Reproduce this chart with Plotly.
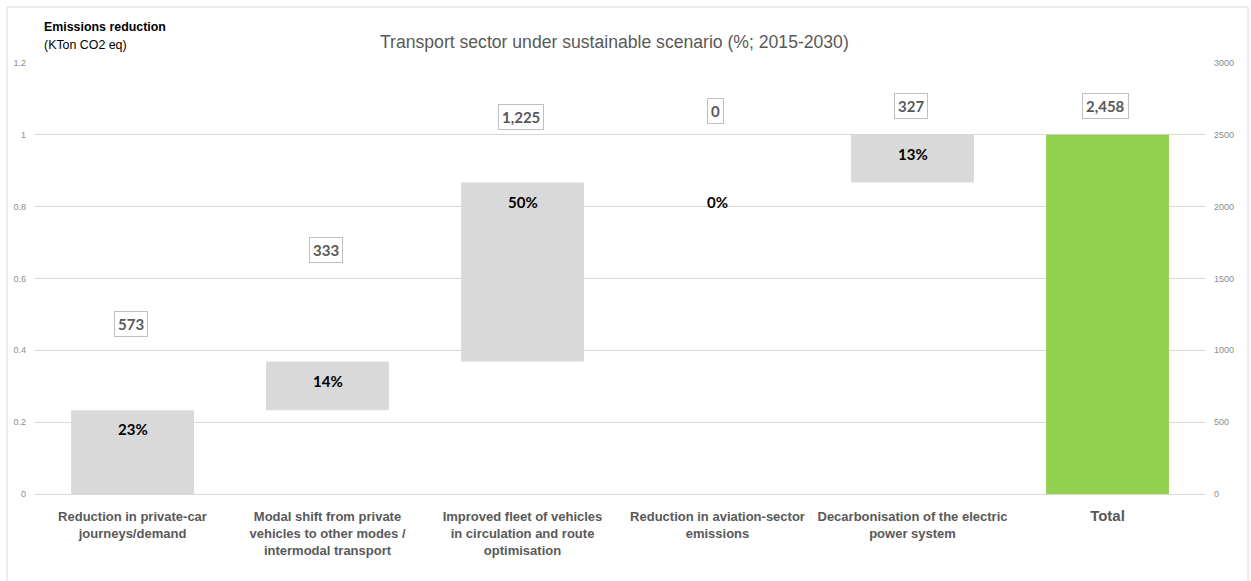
import plotly.graph_objects as go

categories = [
    "Reduction in private-car<br>journeys/demand",
    "Modal shift from private<br>vehicles to other modes /<br>intermodal transport",
    "Improved fleet of vehicles<br>in circulation and route<br>optimisation",
    "Reduction in aviation-sector<br>emissions",
    "Decarbonisation of the electric<br>power system",
    "Total",
]
reductions_kton = [573, 333, 1225, 0, 327]
value_label_y = [0.473, 0.679, 1.050, 1.066, 1.080, 1.080]
left_ticks = [0, 0.2, 0.4, 0.6, 0.8, 1, 1.2]
right_ticks = [0, 500, 1000, 1500, 2000, 2500, 3000]

total = sum(reductions_kton)
shares = [v / total for v in reductions_kton]
bases = []
acc = 0.0
for s in shares:
    bases.append(acc)
    acc += s
xs = list(range(len(categories)))

gray = "#d9d9d9"
green = "#92d050"
txt = "#595959"

fig = go.Figure()
fig.add_trace(go.Bar(
    x=xs, y=shares + [1.0], base=bases + [0.0],
    marker=dict(color=[gray] * len(shares) + [green], line=dict(width=0)),
    width=0.63, hoverinfo="skip", showlegend=False,
))
# invisible trace for right axis
fig.add_trace(go.Scatter(x=[xs[0]], y=[0], yaxis="y2", mode="markers",
                         marker=dict(opacity=0), showlegend=False, hoverinfo="skip"))

annotations = []
for i, s in enumerate(shares):
    annotations.append(dict(
        x=i, y=bases[i] + s, xref="x", yref="y", yanchor="top", yshift=-8,
        text=f"{round(s * 100):.0f}%", showarrow=False,
        font=dict(family="Lato", size=15, color="#000000", weight="bold"),
    ))
values_all = reductions_kton + [total]
for i, v in enumerate(values_all):
    annotations.append(dict(
        x=i, y=value_label_y[i], xref="x", yref="y", xshift=-2,
        text=f"{v:,}", showarrow=False,
        font=dict(family="Lato", size=15, color=txt, weight="bold"),
        bordercolor="#bfbfbf", borderwidth=1, borderpad=3, bgcolor="white",
    ))
annotations += [
    dict(x=0.4957, y=1.0487, xref="paper", yref="paper", text="Transport sector under sustainable scenario (%; 2015-2030)",
         showarrow=False, font=dict(family="Liberation Sans", size=17.6, color=txt), xanchor="center", yanchor="middle"),
    dict(x=0.0077, y=1.0835, xref="paper", yref="paper", text="<b>Emissions reduction</b>", xshift=-2,
         showarrow=False, font=dict(family="Liberation Sans", size=12.4, color="#000000"), xanchor="left", yanchor="middle"),
    dict(x=0.0077, y=1.0418, xref="paper", yref="paper", text="(KTon CO2 eq)", xshift=-2,
         showarrow=False, font=dict(family="Liberation Sans", size=12.4, color="#000000"), xanchor="left", yanchor="middle"),
]

ticktext = [c if c != "Total" else "<span style='font-size:15px'>Total</span>" for c in categories]

fig.update_layout(
    width=1251, height=581,
    margin=dict(l=35, r=46, t=63, b=87),
    paper_bgcolor="white", plot_bgcolor="white",
    annotations=annotations,
    xaxis=dict(tickmode="array", tickvals=xs, ticktext=ticktext, range=[-0.5, 5.5],
               showgrid=False, zeroline=False, showline=False, ticks="",
               tickfont=dict(family="Liberation Sans", size=13, color=txt, weight="bold"),
               ticklabelstandoff=13, fixedrange=True),
    yaxis=dict(range=[0, 1.2], tickvals=left_ticks, ticktext=[f"{t:g}" for t in left_ticks],
               showgrid=True, gridcolor="#d9d9d9", gridwidth=1,
               zeroline=True, zerolinecolor="#d9d9d9", zerolinewidth=1,
               tickfont=dict(family="Liberation Sans", size=9, color="#8c8c8c"),
               ticklabelstandoff=8, fixedrange=True),
    yaxis2=dict(range=[0, 3000], tickvals=right_ticks, overlaying="y", side="right",
                showgrid=False, zeroline=False,
                tickfont=dict(family="Liberation Sans", size=9, color="#8c8c8c"),
                ticklabelstandoff=8, fixedrange=True),
    shapes=[dict(type="rect", xref="paper", yref="paper", x0=-0.0239, x1=1.0368, y0=-0.3, y1=1.13,
                 line=dict(color="#d9d9d9", width=1), fillcolor="rgba(0,0,0,0)", layer="below")],
)

fig.write_html("out.html")
